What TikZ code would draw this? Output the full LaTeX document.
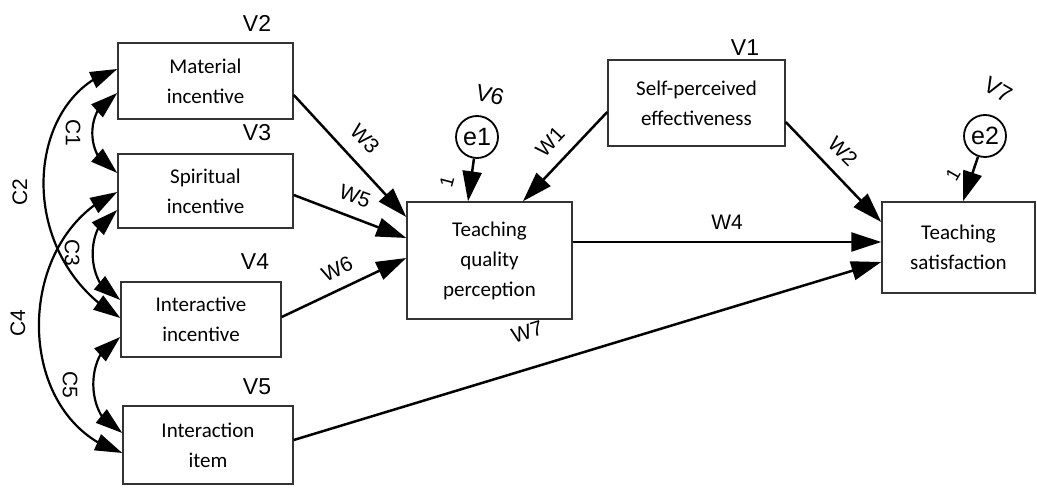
\documentclass[tikz,border=0pt]{standalone}
\usepackage{fontspec}
\setmainfont{Carlito}
\newfontfamily\arialfont{Liberation Sans}
\usetikzlibrary{arrows.meta,bending}
\begin{document}
\begin{tikzpicture}[x=1pt,y=-1pt,
  var/.style={draw=black!80, line width=1.5pt, inner sep=0pt, align=center,
    font=\fontsize{21}{30}\selectfont, text=black},
  err/.style={draw, circle, line width=1.8pt, minimum size=42pt, inner sep=0pt,
    font=\arialfont\fontsize{25}{25}\selectfont},
  path/.style={line width=2.5pt, -{Triangle[length=30pt,width=19pt]}},
  cov/.style={line width=2.2pt,
    {Triangle[length=27pt,width=17pt]}-{Triangle[length=27pt,width=17pt]}},
  lab/.style={font=\arialfont\fontsize{21}{21}\selectfont, inner sep=0pt},
  vlab/.style={font=\arialfont\fontsize{23}{23}\selectfont, inner sep=0pt},
  one/.style={font=\arialfont\fontsize{19}{19}\selectfont, inner sep=0pt}]

\useasboundingbox (0,0) rectangle (1037,502);

% observed variables
\node[var, minimum width=175pt, minimum height=76pt] (mat)  at (205.5,81)  {Material\\incentive};
\node[var, minimum width=175pt, minimum height=74pt] (spi)  at (205.5,191) {Spiritual\\incentive};
\node[var, minimum width=160pt, minimum height=75pt] (intv) at (201,319.5) {Interactive\\incentive};
\node[var, minimum width=170pt, minimum height=78pt] (item) at (208,445)   {Interaction\\item};
\node[var, minimum width=165pt, minimum height=117pt] (tqp) at (489.5,260.5) {Teaching\\quality\\perception};
\node[var, minimum width=177pt, minimum height=86pt] (spe)  at (696.5,103) {Self-perceived\\effectiveness};
\node[var, minimum width=153pt, minimum height=91pt] (ts)   at (958.5,247.5) {Teaching\\satisfaction};

% error terms
\node[err] (e1) at (477,137) {e1};
\node[err] (e2) at (985,136) {e2};

% variable names
\node[vlab] (v2) at (257,23)  {V2};
\node[vlab] (v3) at (257,133) {V3};
\node[vlab] (v4) at (255,262) {V4};
\node[vlab] (v5) at (257,387) {V5};
\node[vlab] (v1) at (745,48)  {V1};
\node[vlab, rotate=-15] (v6) at (490,95) {V6};
\node[vlab, rotate=-30] (v7) at (998,90) {V7};

% regression paths
\draw[path] (mat.east |- 0,95)  -- (tqp.west |- 0,217);
\draw[path] (spi.east |- 0,195) -- (tqp.west |- 0,238);
\draw[path] (intv.east |- 0,317) -- (tqp.west |- 0,258);
\draw[path] (spe.west |- 0,112) -- (tqp.north -| 523,0);
\draw[path] (spe.east |- 0,122) -- (ts.west |- 0,222);
\draw[path] (tqp.east |- 0,242) -- (ts.west |- 0,242);
\draw[path] (item.east |- 0,440) -- (ts.west |- 0,262);
\draw[path] (e1) -- (tqp.north -| 468,0);
\draw[path] (e2) -- (ts.north -| 963,0);

% path weights
\node[lab, rotate=-47] (w3) at (365,139) {W3};
\node[lab, rotate=-20] (w5) at (355,196) {W5};
\node[lab, rotate=25]  (w6) at (337,269) {W6};
\node[lab, rotate=47]  (w1) at (550,142) {W1};
\node[lab, rotate=-45] (w2) at (843,151) {W2};
\node[lab]             (w4) at (727,222) {W4};
\node[lab, rotate=17]  (w7) at (527,332) {W7};
\node[one, rotate=75]  (o1) at (447,182) {1};
\node[one, rotate=60]  (o2) at (953,175) {1};

% covariances
\draw[cov] (mat.west |- 0,93) .. controls (84,106) and (84,160) .. (spi.west |- 0,173);
\draw[cov] (mat.west |- 0,69) .. controls (25,95) and (12,255) .. (intv.west |- 0,318);
\draw[cov] (spi.west |- 0,210) .. controls (84,222) and (84,288) .. (intv.west |- 0,300);
\draw[cov] (spi.west |- 0,192) .. controls (12,238) and (12,420) .. (item.west |- 0,453);
\draw[cov] (intv.west |- 0,337) .. controls (84,350) and (84,420) .. (item.west |- 0,433);

\node[lab, rotate=-90] (c1) at (73,133) {C1};
\node[lab, rotate=90]  (c2) at (20,192) {C2};
\node[lab, rotate=-90] (c3) at (72,253) {C3};
\node[lab, rotate=90]  (c4) at (18,323) {C4};
\node[lab, rotate=-90] (c5) at (70,385) {C5};
\end{tikzpicture}
\end{document}
